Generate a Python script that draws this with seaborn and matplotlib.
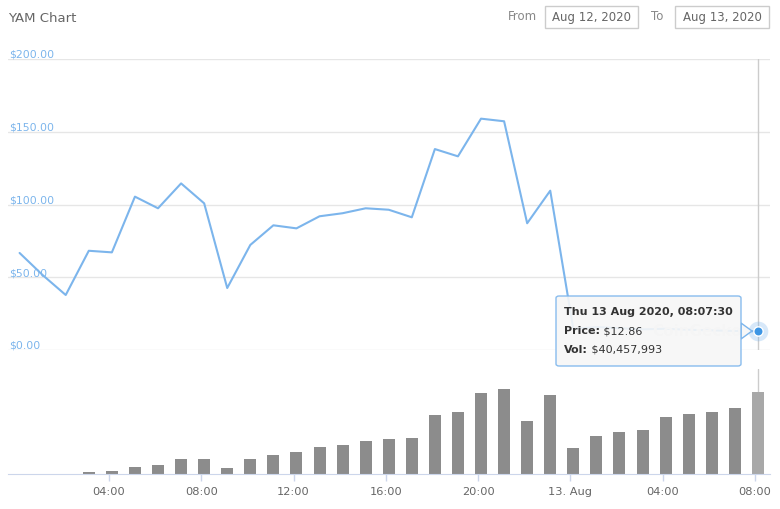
import matplotlib
matplotlib.use('Agg')
import matplotlib.pyplot as plt
import matplotlib.transforms as mtransforms
from matplotlib.patches import FancyBboxPatch, Polygon, Rectangle
from matplotlib.text import Annotation
import pandas as pd
import seaborn as sns

# hourly samples, Aug 12 00:07:30 -> Aug 13 08:07:30
times = pd.date_range('2020-08-12 00:07:30', periods=33, freq='h')
price = [66.7, 51.5, 37.8, 68.2, 67.1, 105.4, 97.4, 114.5, 100.8, 42.6,
         72.2, 85.7, 83.6, 91.9, 94.0, 97.4, 96.4, 91.2, 138.1, 133.1,
         159.0, 157.2, 87.1, 109.5, 14.5, 15.8, 15.0, 14.2, 14.6, 13.9,
         13.5, 13.1, 12.86]
volume = [0, 0, 0, 0.74, 1.23, 3.44, 4.42, 7.18, 7.18, 3.10,
          7.18, 9.49, 10.96, 13.42, 14.40, 16.37, 17.35, 17.85, 29.15, 30.63,
          39.97, 41.93, 25.91, 38.98, 12.93, 18.83, 20.79, 21.78, 28.17, 29.64,
          30.63, 32.59, 40.457993]  # millions USD
price_ticks = [0, 50, 100, 150, 200]
x_tick_hours = [4, 8, 12, 16, 20, 24, 28, 32]
x_tick_labels = ['04:00', '08:00', '12:00', '16:00', '20:00', '13. Aug', '04:00', '08:00']

start = pd.Timestamp('2020-08-12 00:00')
hours = [(t - start) / pd.Timedelta(hours=1) for t in times]
df = pd.DataFrame({'hours': hours, 'price': price, 'volume': volume})

sns.set_style('white')
plt.rcParams['font.family'] = ['DejaVu Sans']

W, H = 780, 510
fig = plt.figure(figsize=(W / 100, H / 100), dpi=100)
xlim = (-0.377, 32.65)

# price panel
ax1 = fig.add_axes([8 / W, 1 - 351 / H, 762 / W, 291 / H])
sns.lineplot(data=df, x='hours', y='price', ax=ax1, color='#7cb5ec', linewidth=1.5)
ax1.set_xlim(*xlim)
ax1.set_ylim(0, 200)
ax1.set_yticks(price_ticks)
ax1.set_xticks([])
ax1.grid(axis='y', color='#e6e6e6', linewidth=1)
ax1.tick_params(left=False, labelleft=False)
ax1.set_xlabel('')
ax1.set_ylabel('')
for s in ax1.spines.values():
    s.set_visible(False)
trans = mtransforms.blended_transform_factory(ax1.transAxes, ax1.transData)
for v in price_ticks:
    ax1.text(0.001, v, f'${v:.2f}', transform=trans, ha='left', va='bottom',
             color='#7cb5ec', fontsize=7.8)
ax1.axvline(df['hours'].iloc[-1], color='#cccccc', linewidth=1, zorder=1)

# watermark
fig.text(697 / W, 1 - 331 / H, 'CoinGecko', color='#e4e4e4', fontsize=11,
         fontweight='bold', ha='center', va='center', zorder=0)

# volume panel
ax2 = fig.add_axes([8 / W, 1 - 475 / H, 762 / W, 105 / H])
sns.barplot(data=df, x='hours', y='volume', native_scale=True, orient='x',
            width=0.52, color='#8c8c8c', saturation=1, linewidth=0, ax=ax2)
ax2.patches[-1].set_facecolor('#a8a8a8')
ax2.set_xlim(*xlim)
ax2.set_ylim(0, 51.6)
ax2.axvline(df['hours'].iloc[-1], color='#cccccc', linewidth=1, zorder=0)
ax2.set_yticks([])
ax2.set_xticks(x_tick_hours)
ax2.set_xticklabels(x_tick_labels)
ax2.tick_params(axis='x', bottom=True, length=5, width=1, color='#ccd6eb',
                labelcolor='#666666', labelsize=8.2, pad=4)
ax2.set_xlabel('')
ax2.set_ylabel('')
for k, s in ax2.spines.items():
    s.set_visible(k == 'bottom')
ax2.spines['bottom'].set_color('#ccd6eb')

# hover marker on last point
last_h, last_p = df['hours'].iloc[-1], df['price'].iloc[-1]
ax1.scatter([last_h], [last_p], s=200, color='#7cb5ec', alpha=0.3, linewidths=0,
            zorder=5, clip_on=False)
ax1.scatter([last_h], [last_p], s=45, color='#3c95e4', edgecolors='white',
            linewidths=1, zorder=6, clip_on=False)

# tooltip
bx0, by0, bx1, by1 = 556, 297, 741, 367
fig.patches.append(Polygon([(bx1 / W, 1 - 324 / H), (752 / W, 1 - 332 / H),
                            (bx1 / W, 1 - 340 / H)], closed=True,
                           transform=fig.transFigure, facecolor='#f7f7f7',
                           edgecolor='#7cb5ec', linewidth=1, zorder=9))
fig.patches.append(FancyBboxPatch((bx0 / W, 1 - by1 / H), (bx1 - bx0) / W,
                                  (by1 - by0) / H,
                                  boxstyle='round,pad=0,rounding_size=0.004',
                                  transform=fig.transFigure, facecolor='#f7f7f7',
                                  alpha=0.9, edgecolor='#7cb5ec', linewidth=1,
                                  zorder=10))
tx = 564 / W
fs_tip = 8
fig.text(tx, 1 - 312 / H, 'Thu 13 Aug 2020, 08:07:30', fontsize=fs_tip, fontweight='bold',
         color='#333333', va='center', zorder=11)
t1 = fig.text(tx, 1 - 331 / H, 'Price:', fontsize=fs_tip, fontweight='bold',
              color='#333333', va='center', zorder=11)
a1 = Annotation(f' ${last_p:.2f}', xy=(1, 0.5), xycoords=t1, va='center', ha='left',
                fontsize=fs_tip, color='#333333', annotation_clip=False)
a1.set_zorder(11)
fig.add_artist(a1)
t2 = fig.text(tx, 1 - 350 / H, 'Vol:', fontsize=fs_tip, fontweight='bold',
              color='#333333', va='center', zorder=11)
vol_last = int(round(df['volume'].iloc[-1] * 1e6))
a2 = Annotation(f' ${vol_last:,}', xy=(1, 0.5), xycoords=t2, va='center', ha='left',
                fontsize=fs_tip, color='#333333', annotation_clip=False)
a2.set_zorder(11)
fig.add_artist(a2)

# header
fig.text(8 / W, 1 - 18 / H, 'YAM Chart', fontsize=9.5, color='#666666', va='center')
fig.text(508 / W, 1 - 17 / H, 'From', fontsize=8.5, color='#888888', va='center')
fig.text(651 / W, 1 - 17 / H, 'To', fontsize=8.5, color='#888888', va='center')
for x0, x1, label in [(545, 638, 'Aug 12, 2020'), (675, 769, 'Aug 13, 2020')]:
    fig.patches.append(Rectangle((x0 / W, 1 - 29 / H), (x1 - x0) / W, 22 / H,
                                 transform=fig.transFigure, facecolor='white',
                                 edgecolor='#cccccc', linewidth=1))
    fig.text((x0 + x1) / 2 / W, 1 - 17 / H, label, fontsize=8.5, color='#666666',
             ha='center', va='center')

fig.savefig('out.png', dpi=100)
